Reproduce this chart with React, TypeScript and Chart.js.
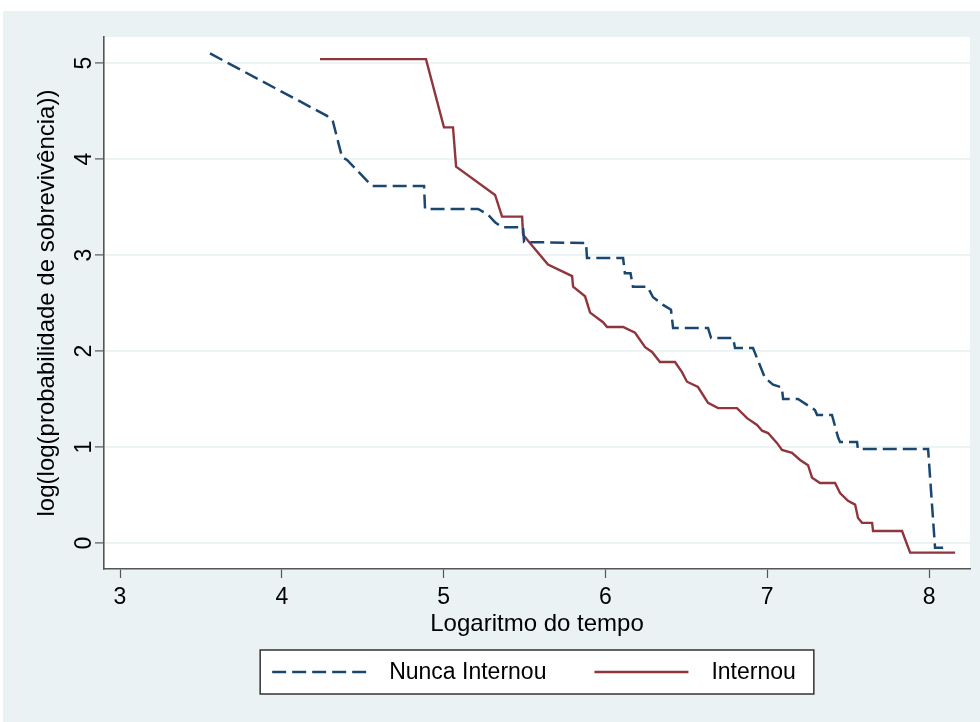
import { useEffect, useRef } from "react";
import { Chart, registerables } from "chart.js";

Chart.register(...registerables);

// ---- data ----
const SERIES_LABELS = ["Nunca Internou", "Internou"];

const NUNCA_X = [
  3.556, 4.279, 4.316, 4.372, 4.403, 4.557, 4.879, 4.885, 5.213, 5.274, 5.318,
  5.361, 5.491, 5.497, 5.88, 5.886, 6.109, 6.12, 6.155, 6.17, 6.26, 6.294,
  6.356, 6.405, 6.418, 6.634, 6.653, 6.789, 6.801, 6.912, 6.986, 7.036, 7.09,
  7.098, 7.19, 7.295, 7.308, 7.4, 7.437, 7.45, 7.555, 7.56, 7.994, 8.037, 8.087,
];
const NUNCA_Y = [
  5.1, 4.45, 4.39, 4.02, 3.99, 3.72, 3.72, 3.48, 3.48, 3.42, 3.34,
  3.29, 3.29, 3.135, 3.125, 2.97, 2.97, 2.81, 2.81, 2.67, 2.67, 2.56,
  2.48, 2.43, 2.24, 2.24, 2.135, 2.135, 2.03, 2.03, 1.72, 1.65, 1.62,
  1.5, 1.5, 1.385, 1.333, 1.333, 1.104, 1.052, 1.052, 0.979, 0.979, -0.05, -0.05,
];

const INTERNOU_X = [
  4.236, 4.891, 5.002, 5.058, 5.077, 5.318, 5.361, 5.485, 5.491, 5.546, 5.645,
  5.794, 5.8, 5.874, 5.905, 5.985, 6.01, 6.109, 6.183, 6.245, 6.288, 6.337,
  6.43, 6.473, 6.504, 6.572, 6.634, 6.696, 6.813, 6.875, 6.937, 6.968, 7.005,
  7.061, 7.091, 7.153, 7.203, 7.252, 7.277, 7.326, 7.419, 7.45, 7.499, 7.543,
  7.561, 7.586, 7.648, 7.654, 7.833, 7.883, 8.161,
];
const INTERNOU_Y = [
  5.04, 5.04, 4.33, 4.33, 3.92, 3.625, 3.4, 3.4, 3.21, 3.1, 2.9,
  2.78, 2.67, 2.57, 2.4, 2.3, 2.25, 2.25, 2.19, 2.04, 1.99, 1.885,
  1.885, 1.78, 1.68, 1.625, 1.46, 1.405, 1.405, 1.3, 1.23, 1.17, 1.145,
  1.04, 0.97, 0.94, 0.865, 0.81, 0.68, 0.625, 0.625, 0.52, 0.44, 0.4,
  0.26, 0.21, 0.21, 0.125, 0.125, -0.1, -0.1,
];

const X_TICKS = [3, 4, 5, 6, 7, 8];
const Y_TICKS = [0, 1, 2, 3, 4, 5];
const X_RANGE = [2.901, 8.253];
const Y_RANGE = [-0.271, 5.271];
const X_TITLE = "Logaritmo do tempo";
const Y_TITLE = "log(log(probabilidade de sobrevivência))";

// ---- styles ----
const BG = "#EAF2F3";
const NAVY = "#1A476F";
const MAROON = "#90353B";
const AXIS = "#555555";
const FAMILY = "'Liberation Sans', Arial, sans-serif";
const FONT = { family: FAMILY, size: 23, lineHeight: 1.2 };
const TITLE_FONT = { family: FAMILY, size: 24, lineHeight: 1.2 };

const backgroundPlugin = {
  id: "stataBackground",
  beforeDraw(chart: any) {
    const { ctx, width, height, chartArea } = chart;
    ctx.save();
    ctx.fillStyle = "#ffffff";
    ctx.fillRect(0, 0, width, height);
    ctx.fillStyle = BG;
    ctx.fillRect(3, 11, width - 3, height - 11);
    ctx.fillStyle = "#ffffff";
    ctx.fillRect(
      chartArea.left,
      chartArea.top,
      chartArea.right - chartArea.left,
      chartArea.bottom - chartArea.top
    );
    ctx.restore();
  },
};

const legendBoxPlugin = {
  id: "stataLegend",
  afterDraw(chart: any) {
    const { ctx, chartArea } = chart;
    const ds = chart.data.datasets;
    ctx.save();
    ctx.font = `${FONT.size}px ${FAMILY}`;
    const sample = 94;
    const gapText = 23;
    const gapItem = 48;
    const widths = ds.map((d: any) => ctx.measureText(d.label).width);
    const inner =
      ds.length * (sample + gapText) + widths.reduce((a: number, b: number) => a + b, 0) + gapItem * (ds.length - 1);
    const cx = (chartArea.left + chartArea.right) / 2;
    const padL = 12;
    const padR = 18;
    const boxW = inner + padL + padR;
    const left = cx - boxW / 2;
    const top = chartArea.bottom + 81;
    const boxH = 44;
    ctx.fillStyle = "#ffffff";
    ctx.fillRect(left, top, boxW, boxH);
    ctx.strokeStyle = "#333333";
    ctx.lineWidth = 1.5;
    ctx.strokeRect(left, top, boxW, boxH);
    const cy = top + boxH / 2;
    let x = left + padL;
    ds.forEach((d: any, i: number) => {
      ctx.beginPath();
      ctx.setLineDash(d.borderDash || []);
      ctx.strokeStyle = d.borderColor;
      ctx.lineWidth = d.borderWidth;
      ctx.moveTo(x, cy);
      ctx.lineTo(x + sample, cy);
      ctx.stroke();
      ctx.setLineDash([]);
      x += sample + gapText;
      ctx.fillStyle = "#000000";
      ctx.textBaseline = "middle";
      ctx.textAlign = "left";
      ctx.fillText(d.label, x, cy + 1);
      x += widths[i] + gapItem;
    });
    ctx.restore();
  },
};

export default function App() {
  const ref = useRef<HTMLCanvasElement>(null);

  useEffect(() => {
    const canvas = ref.current;
    if (!canvas) return;
    const chart = new Chart(canvas, {
      type: "line",
      data: {
        datasets: [
          {
            label: SERIES_LABELS[0],
            data: NUNCA_X.map((x, i) => ({ x, y: NUNCA_Y[i] })),
            borderColor: NAVY,
            borderWidth: 2.5,
            borderDash: [14, 6],
            pointRadius: 0,
            fill: false,
            tension: 0,
          },
          {
            label: SERIES_LABELS[1],
            data: INTERNOU_X.map((x, i) => ({ x, y: INTERNOU_Y[i] })),
            borderColor: MAROON,
            borderWidth: 2.4,
            pointRadius: 0,
            fill: false,
            tension: 0,
          },
        ],
      },
      options: {
        responsive: false,
        animation: false,
        devicePixelRatio: 1,
        layout: { padding: { top: 37, right: 10, bottom: 83.6, left: 0 } },
        plugins: {
          legend: { display: false },
          tooltip: { enabled: false },
        },
        scales: {
          x: {
            type: "linear",
            min: X_RANGE[0],
            max: X_RANGE[1],
            afterBuildTicks: (s: any) => {
              s.ticks = X_TICKS.map((v) => ({ value: v }));
            },
            afterFit: (s: any) => {
              s.height = 69.4;
            },
            grid: {
              drawOnChartArea: false,
              drawTicks: true,
              tickLength: 9,
              tickColor: AXIS,
              tickWidth: 1.2,
            },
            border: { display: true, color: AXIS, width: 1.6 },
            ticks: {
              font: FONT,
              color: "#000000",
              padding: 6,
              maxRotation: 0,
              autoSkip: false,
              callback: (v: any) => String(v),
            },
            title: {
              display: true,
              text: X_TITLE,
              font: TITLE_FONT,
              color: "#000000",
              padding: { top: 0, bottom: 0 },
            },
          },
          y: {
            type: "linear",
            min: Y_RANGE[0],
            max: Y_RANGE[1],
            afterBuildTicks: (s: any) => {
              s.ticks = Y_TICKS.map((v) => ({ value: v }));
            },
            afterFit: (s: any) => {
              s.width = 104;
            },
            grid: {
              color: BG,
              lineWidth: 1.8,
              drawTicks: true,
              tickLength: 9,
              tickColor: AXIS,
              tickWidth: 1.2,
            },
            border: { display: true, color: AXIS, width: 1.6 },
            ticks: {
              font: FONT,
              color: "#000000",
              minRotation: 90,
              maxRotation: 90,
              crossAlign: "center",
              padding: 4,
              autoSkip: false,
              callback: (v: any) => String(v),
            },
            title: {
              display: true,
              text: Y_TITLE,
              font: TITLE_FONT,
              color: "#000000",
              padding: { top: 32.6, bottom: 0 },
            },
          },
        },
      },
      plugins: [backgroundPlugin, legendBoxPlugin],
    });
    return () => chart.destroy();
  }, []);

  return (
    <div style={{ position: "fixed", left: 0, top: 0, width: 980, height: 722 }}>
      <canvas ref={ref} width={980} height={722} style={{ display: "block", width: 980, height: 722 }} />
    </div>
  );
}
